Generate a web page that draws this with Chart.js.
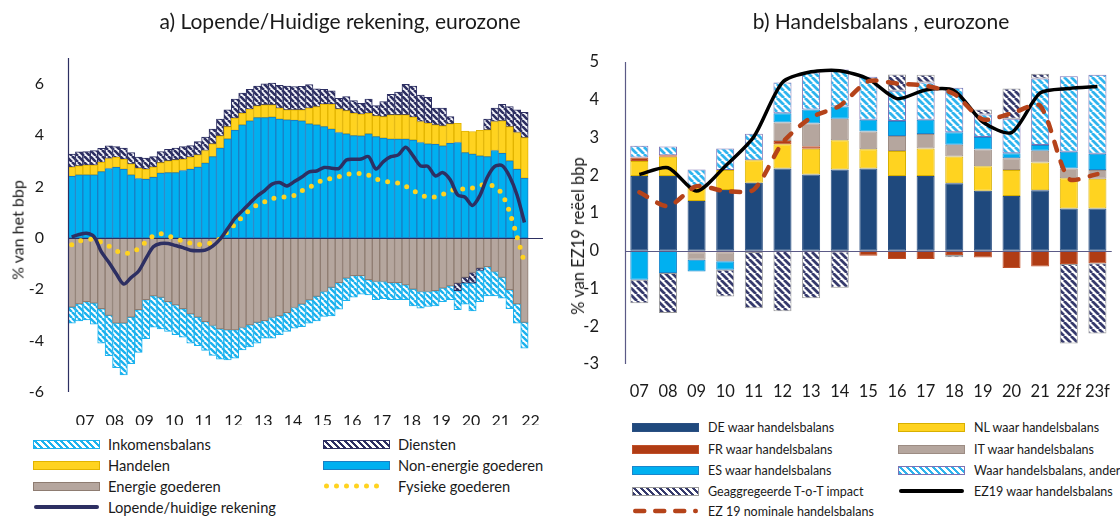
<!DOCTYPE html>
<html>
<head>
<meta charset="utf-8">
<script src="https://cdn.jsdelivr.net/npm/chart.js@4.4.1/dist/chart.umd.min.js"></script>
<style>
  body { margin: 0; background: #fff; font-family: Lato, "Liberation Sans", sans-serif; color: #1a1a1a; }
  #wrap { position: relative; width: 1120px; height: 519px; overflow: hidden; }
  canvas { position: absolute; top: 0; }
  .title { position: absolute; top: 8px; font-size: 21px; white-space: nowrap; transform: translateX(-50%); }
  .ytitle { position: absolute; white-space: nowrap; font-size: 16px; transform: translate(-50%, -50%) rotate(-90deg); }
  .lg { position: absolute; white-space: nowrap; display: flex; align-items: center; }
  .sw { width: 67px; box-sizing: border-box; margin-right: 8px; }
</style>
</head>
<body>
<div id="wrap">
  <canvas id="left" width="560" height="425" style="left:0"></canvas>
  <canvas id="right" width="560" height="400" style="left:560px"></canvas>
  <div class="title" style="left:340px">a) Lopende/Huidige rekening, eurozone</div>
  <div class="title" style="left:881px">b) Handelsbalans , eurozone</div>
  <div class="ytitle" style="left:17px; top:230px">% van het bbp</div>
  <div class="ytitle" style="left:578px; top:236px; font-size:16.5px">% van EZ19 reëel bbp</div>
  <div id="legends"></div>
</div>
<script>
// ---- left panel: quarterly 2007Q1 - 2022Q2 ----
const yearLabels = ['07','08','09','10','11','12','13','14','15','16','17','18','19','20','21','22'];

const nonEnergie = [2.39,2.45,2.45,2.45,2.58,2.70,2.74,2.67,2.45,2.31,2.28,2.36,2.52,2.54,2.54,2.62,
  2.67,2.75,2.91,3.16,3.49,3.85,4.18,4.40,4.55,4.68,4.68,4.70,4.62,4.59,4.57,4.55,
  4.44,4.40,4.33,4.23,4.10,4.05,3.98,3.97,4.05,3.94,3.88,3.84,3.84,3.84,3.81,3.71,
  3.66,3.64,3.58,3.68,3.71,3.32,3.26,3.19,3.16,3.40,3.29,3.00,2.67,2.32];
const handelen = [0.36,0.35,0.38,0.38,0.36,0.39,0.39,0.39,0.43,0.40,0.39,0.39,0.41,0.46,0.50,0.44,
  0.47,0.48,0.49,0.50,0.48,0.48,0.48,0.45,0.46,0.46,0.50,0.48,0.43,0.39,0.41,0.43,
  0.61,0.71,0.87,0.97,0.92,0.90,0.87,0.84,0.80,0.81,0.84,0.95,0.95,0.95,0.89,0.82,
  0.80,0.76,0.78,0.76,0.75,0.84,0.88,0.99,1.04,1.13,1.26,1.33,1.43,1.58];
const diensten = [0.51,0.55,0.53,0.57,0.54,0.49,0.42,0.43,0.44,0.43,0.43,0.41,0.43,0.45,0.45,0.49,
  0.45,0.52,0.52,0.57,0.65,0.65,0.74,0.78,0.77,0.77,0.81,0.84,0.89,0.93,0.91,0.92,
  0.92,0.69,0.58,0.52,0.41,0.55,0.49,0.43,0.55,0.40,0.58,0.80,0.88,1.19,1.21,1.03,
  1.01,0.65,0.69,0.28,-0.30,-0.22,-0.41,-0.09,0.42,0.52,0.65,0.78,0.88,0.99];
const energie = [-2.70,-2.57,-2.48,-2.54,-2.76,-3.02,-3.32,-3.32,-3.09,-2.80,-2.41,-2.26,-2.32,-2.48,-2.61,-2.76,
  -2.96,-3.09,-3.26,-3.41,-3.54,-3.58,-3.58,-3.49,-3.39,-3.29,-3.22,-3.10,-3.04,-2.91,-2.71,-2.58,
  -2.42,-2.28,-2.09,-1.93,-1.74,-1.57,-1.47,-1.47,-1.63,-1.70,-1.70,-1.74,-1.74,-1.83,-2.00,-2.09,
  -2.09,-2.06,-1.96,-1.87,-1.76,-1.54,-1.35,-1.18,-1.12,-1.31,-1.54,-2.02,-2.57,-3.29];
const inkomens = [-0.62,-0.66,-0.71,-0.82,-1.34,-1.57,-1.73,-2.02,-1.81,-1.66,-1.51,-1.22,-1.22,-1.16,-1.16,-1.11,
  -1.14,-1.11,-1.12,-1.17,-1.18,-1.17,-1.10,-0.87,-0.86,-0.81,-0.68,-0.80,-0.73,-0.73,-0.81,-0.88,
  -0.90,-0.95,-0.97,-1.11,-1.04,-0.88,-0.84,-0.72,-0.59,-0.71,-0.67,-0.67,-0.67,-0.58,-0.65,-0.65,
  -0.58,-0.59,-0.52,-0.54,-0.74,-0.82,-1.08,-1.21,-1.14,-0.95,-0.81,-0.74,-0.75,-1.00];
const fysieke = [-0.27,-0.13,-0.06,-0.07,-0.17,-0.32,-0.50,-0.60,-0.58,-0.41,-0.15,0.08,0.16,0.08,-0.03,-0.13,
  -0.21,-0.26,-0.24,-0.18,-0.03,0.25,0.53,0.82,1.09,1.28,1.40,1.53,1.57,1.60,1.65,1.83,
  1.97,2.12,2.28,2.31,2.38,2.46,2.51,2.50,2.44,2.29,2.21,2.16,2.13,2.01,1.84,1.68,
  1.58,1.60,1.69,1.82,1.92,1.89,1.94,2.04,2.07,2.00,1.70,1.00,0.05,-0.96];
const lopende = [0.03,0.13,0.18,0.05,-0.55,-0.95,-1.40,-1.80,-1.55,-1.30,-0.80,-0.35,-0.22,-0.22,-0.30,-0.38,
  -0.48,-0.50,-0.48,-0.32,-0.05,0.35,0.77,1.06,1.35,1.63,1.84,2.09,2.15,2.02,2.19,2.37,
  2.57,2.60,2.74,2.71,2.70,3.03,3.06,3.07,3.16,2.68,2.97,3.16,3.23,3.53,3.19,2.80,
  2.78,2.41,2.54,2.26,1.67,1.58,1.26,1.65,2.36,2.78,2.81,2.39,1.67,0.60];

// ---- right panel: yearly ----
const jaren = ['07','08','09','10','11','12','13','14','15','16','17','18','19','20','21','22f','23f'];
const deWaar = [1.98,1.98,1.32,1.61,1.80,2.18,2.02,2.15,2.18,1.98,1.98,1.79,1.59,1.45,1.60,1.12,1.12];
const nlWaar = [0.40,0.51,0.40,0.53,0.60,0.64,0.68,0.78,0.51,0.66,0.73,0.71,0.65,0.69,0.74,0.80,0.79];
const frWaar = [0.09,0.04,-0.04,-0.04,-0.03,0.09,0.07,-0.02,-0.13,-0.22,-0.22,-0.11,-0.18,-0.46,-0.42,-0.35,-0.33];
const itWaar = [null,null,-0.20,-0.24,null,0.49,0.60,0.57,0.47,0.40,0.38,0.31,0.44,0.31,0.31,0.26,0.23];
const esWaar = [-0.77,-0.59,-0.31,-0.22,null,0.24,0.37,0.32,0.31,0.40,0.38,0.33,0.33,0.13,0.15,0.44,0.43];
const anderWaar = [0.31,0.23,0.43,0.57,0.70,0.82,0.98,0.98,1.14,0.80,0.99,1.18,0.60,0.92,1.76,2.00,2.09];
const totImpact = [-0.62,-1.06,null,-0.71,-1.49,-1.60,-1.26,-0.96,null,0.43,0.20,-0.06,0.13,0.80,0.13,-2.11,-1.86];
const ez19Waar = [2.02,2.20,1.58,2.24,3.02,4.46,4.74,4.77,4.55,4.03,4.26,4.24,3.41,3.13,4.18,4.30,4.35];
const ez19Nominaal = [1.55,1.18,1.71,1.58,1.62,2.86,3.53,3.84,4.49,4.43,4.37,4.15,3.48,3.64,3.84,1.91,2.03];

const quarters = [];
yearLabels.forEach(y => { for (let q = 1; q <= 4; q++) quarters.push(y + 'Q' + q); });

function stripes(fg, bg, size, lw) {
    const c = document.createElement('canvas');
    c.width = c.height = size;
    const g = c.getContext('2d');
    g.fillStyle = bg;
    g.fillRect(0, 0, size, size);
    g.strokeStyle = fg;
    g.lineWidth = lw;
    g.beginPath();
    for (let o = -size; o <= size; o += size) {
        g.moveTo(o, 0);
        g.lineTo(o + size, size);
    }
    g.stroke();
    return g.createPattern(c, 'repeat');
}

const NAVY = '#2d2f62';
const LBLUE = '#00b0f0';
const YELLOW = '#ffd320';
const TAUPE = '#b5a69e';

// y axis line + zero line (zero line goes under the line series, over the bars)
const axisLines = {
    id: 'axisLines',
    beforeDraw(chart) { chart.$zeroDone = false; },
    beforeDatasetDraw(chart, args, opts) {
        if (args.meta.type !== 'line' || chart.$zeroDone) return;
        chart.$zeroDone = true;
        const { ctx, chartArea: a } = chart;
        const z = Math.round(chart.scales.y.getPixelForValue(0)) + 0.5;
        ctx.save();
        ctx.strokeStyle = opts.color;
        ctx.lineWidth = 1.2;
        ctx.beginPath();
        ctx.moveTo(a.left, z);
        ctx.lineTo(a.right, z);
        ctx.moveTo(a.left + 0.5, a.top);
        ctx.lineTo(a.left + 0.5, a.bottom);
        ctx.stroke();
        ctx.restore();
    },
};

function bar(label, data, bg, border) {
    return { type: 'bar', label, data, backgroundColor: bg, borderColor: border, borderWidth: 1,
             borderSkipped: false, stack: 'bars', order: 2 };
}

// left chart
const font = { family: 'Lato, "Liberation Sans", sans-serif', size: 16 };
new Chart(document.getElementById('left'), {
    data: {
        labels: quarters,
        datasets: [
            bar('Non-energie goederen', nonEnergie, LBLUE, '#1a7fc4'),
            bar('Energie goederen', energie, TAUPE, '#8e7c71'),
            bar('Handelen', handelen, YELLOW, '#e2b400'),
            bar('Diensten', diensten, stripes(NAVY, '#f4f5fa', 6, 2.6), NAVY),
            bar('Inkomensbalans', inkomens, stripes('#1cb2ee', '#ffffff', 6, 2.4), '#1cb2ee'),
            { type: 'line', label: 'Fysieke goederen', data: fysieke, borderColor: YELLOW, borderWidth: 5,
              borderDash: [0, 10], borderCapStyle: 'round', pointRadius: 0, tension: 0.3, stack: 'l1', order: 1 },
            { type: 'line', label: 'Lopende/huidige rekening', data: lopende, borderColor: NAVY, borderWidth: 3.5,
              pointRadius: 0, tension: 0.3, stack: 'l2', order: 0 },
        ],
    },
    plugins: [axisLines],
    options: {
        responsive: false,
        animation: false,
        layout: { padding: { left: 0, top: 58, right: 17, bottom: 0 } },
        plugins: { legend: { display: false }, tooltip: { enabled: false }, axisLines: { color: NAVY } },
        datasets: { bar: { barPercentage: 1, categoryPercentage: 1 } },
        scales: {
            x: {
                stacked: true,
                grid: { display: false },
                border: { display: false },
                ticks: { autoSkip: false, maxRotation: 0, padding: 11, labelOffset: 6, color: '#1a1a1a', font,
                         callback: (v, i) => (i % 4 === 1 ? yearLabels[(i - 1) / 4] : '') },
                afterFit: s => { s.height = 33; },
            },
            y: {
                stacked: true,
                min: -6, max: 7,
                grid: { display: false },
                border: { display: false },
                ticks: { stepSize: 2, includeBounds: false, padding: 16, color: '#1a1a1a', font },
                afterFit: s => { s.width = 68; },
            },
        },
    },
});

// right chart
const rfont = { family: 'Lato, "Liberation Sans", sans-serif', size: 16.5 };
new Chart(document.getElementById('right'), {
    data: {
        labels: jaren,
        datasets: [
            bar('DE waar handelsbalans', deWaar, '#1f497d', '#2a4f82'),
            bar('NL waar handelsbalans', nlWaar, YELLOW, '#d8b000'),
            bar('FR waar handelsbalans', frWaar, '#b03c14', '#c0502a'),
            bar('IT waar handelsbalans', itWaar, TAUPE, '#9c8c83'),
            bar('ES waar handelsbalans', esWaar, LBLUE, '#1a86cc'),
            bar('Waar handelsbalans, ander', anderWaar, stripes('#2fb4ee', '#ffffff', 7, 2.8), '#7d72b4'),
            bar('Geaggregeerde T-o-T impact', totImpact, stripes('#363a6c', '#ffffff', 7, 2.8), '#9a9a9a'),
            { type: 'line', label: 'EZ19 waar handelsbalans', data: ez19Waar, borderColor: '#000', borderWidth: 3.5,
              pointRadius: 0, tension: 0.25, stack: 'l1', order: 1 },
            { type: 'line', label: 'EZ 19 nominale handelsbalans', data: ez19Nominaal, borderColor: '#b5431a',
              borderWidth: 4.5, borderDash: [9, 11.5], borderCapStyle: 'round', pointRadius: 0, tension: 0.25,
              stack: 'l2', order: 0 },
        ],
    },
    plugins: [axisLines],
    options: {
        responsive: false,
        animation: false,
        layout: { padding: { left: 0, top: 62, right: 4, bottom: 0 } },
        plugins: { legend: { display: false }, tooltip: { enabled: false }, axisLines: { color: '#5b5a86' } },
        datasets: { bar: { barPercentage: 1, categoryPercentage: 0.63 } },
        scales: {
            x: {
                stacked: true,
                grid: { display: false },
                border: { display: false },
                ticks: { autoSkip: false, maxRotation: 0, padding: 10, color: '#1a1a1a', font: rfont },
                afterFit: s => { s.height = 36; },
            },
            y: {
                stacked: true,
                min: -3, max: 5,
                grid: { display: false },
                border: { display: false },
                ticks: { stepSize: 1, padding: 18, color: '#1a1a1a', font: rfont },
                afterFit: s => { s.width = 65; },
            },
        },
    },
});

// legends (html)
const hatchCss = (fg, bg) => `repeating-linear-gradient(45deg, ${fg} 0 2.4px, ${bg} 2.4px 4.6px)`;
const lineSvg = (color, w, dash) =>
    `<svg width="67" height="10"><line x1="${w / 2 + 1}" y1="5" x2="${66 - w / 2}" y2="5" stroke="${color}" stroke-width="${w}" stroke-linecap="round" ${dash ? `stroke-dasharray="${dash}"` : ''}/></svg>`;

const leftLegend = [
    [33, 444, 'Inkomensbalans', { background: hatchCss('#1cb2ee', '#fff'), border: '1px solid #1cb2ee' }],
    [323, 444, 'Diensten', { background: hatchCss(NAVY, '#fff'), border: '1px solid ' + NAVY }],
    [33, 465, 'Handelen', { background: YELLOW, border: '1px solid #e2b400' }],
    [323, 465, 'Non-energie goederen', { background: LBLUE, border: '1px solid #1a7fc4' }],
    [33, 486, 'Energie goederen', { background: TAUPE, border: '1px solid #8e7c71' }],
    [323, 486, 'Fysieke goederen', { svg: lineSvg(YELLOW, 5, '0 10') }],
    [33, 507, 'Lopende/huidige rekening', { svg: lineSvg(NAVY, 4) }],
];
const rightLegend = [
    [632, 427, 'DE waar handelsbalans', { background: '#1f497d', border: '1px solid #2a4f82' }],
    [898, 427, 'NL waar handelsbalans', { background: YELLOW, border: '1px solid #d8b000' }],
    [632, 449, 'FR waar handelsbalans', { background: '#b03c14', border: '1px solid #c0502a' }],
    [898, 449, 'IT waar handelsbalans', { background: TAUPE, border: '1px solid #9c8c83' }],
    [632, 470, 'ES waar handelsbalans', { background: LBLUE, border: '1px solid #1a86cc' }],
    [898, 470, 'Waar handelsbalans, ander', { background: hatchCss('#2fb4ee', '#fff'), border: '1px solid #7d72b4' }],
    [632, 491, 'Geaggregeerde T-o-T impact', { background: hatchCss('#363a6c', '#fff'), border: '1px solid #9a9a9a' }],
    [898, 491, 'EZ19 waar handelsbalans', { svg: lineSvg('#000', 4) }],
    [632, 511, 'EZ 19 nominale handelsbalans', { svg: lineSvg('#b5431a', 4.5, '9 11') }],
];

function addLegend(items, size, gap) {
    const box = document.getElementById('legends');
    items.forEach(([x, y, text, st]) => {
        const el = document.createElement('div');
        el.className = 'lg';
        el.style.left = x + 'px';
        el.style.top = (y - 10) + 'px';
        el.style.height = '20px';
        el.style.fontSize = size + 'px';
        const sw = document.createElement('div');
        sw.className = 'sw';
        sw.style.marginRight = gap + 'px';
        if (st.svg) {
            sw.innerHTML = st.svg;
            sw.style.height = '10px';
            sw.style.lineHeight = '0';
        } else {
            sw.style.height = '9px';
            sw.style.background = st.background;
            sw.style.border = st.border;
        }
        el.appendChild(sw);
        el.appendChild(document.createTextNode(text));
        box.appendChild(el);
    });
}
addLegend(leftLegend, 14.7, 8);
addLegend(rightLegend, 12.5, 9);
</script>
</body>
</html>
